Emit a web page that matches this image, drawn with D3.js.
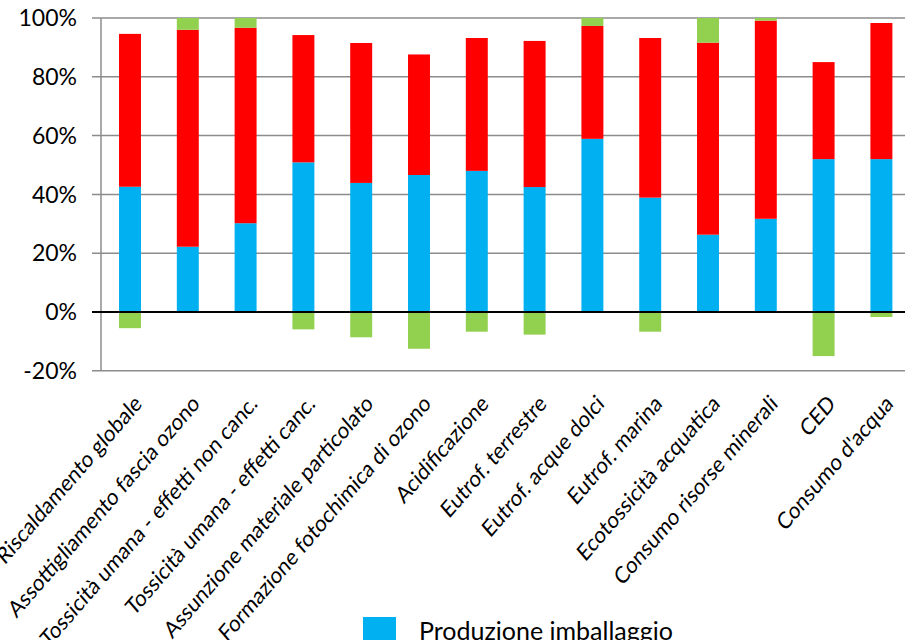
<!DOCTYPE html>
<html>
<head>
<meta charset="utf-8">
<script src="https://cdn.jsdelivr.net/npm/d3@7"></script>
<style>
  html, body { margin: 0; padding: 0; background: #fff; }
  svg { display: block; }
  text { font-family: Lato, "Open Sans", sans-serif; fill: #000; }
</style>
</head>
<body>
<svg id="chart" width="905" height="640"></svg>
<script>
const categories = [
  "Riscaldamento globale",
  "Assottigliamento fascia ozono",
  "Tossicità umana - effetti non canc.",
  "Tossicità umana - effetti canc.",
  "Assunzione materiale particolato",
  "Formazione fotochimica di ozono",
  "Acidificazione",
  "Eutrof. terrestre",
  "Eutrof. acque dolci",
  "Eutrof. marina",
  "Ecotossicità acquatica",
  "Consumo risorse minerali",
  "CED",
  "Consumo d'acqua"
];
// Blue series: Produzione imballaggio
const produzione = [42.6, 22.2, 30.2, 50.9, 43.9, 46.6, 48.0, 42.5, 58.9, 38.9, 26.3, 31.7, 52.0, 52.0];
// Red series
const seriesRed = [52.0, 73.8, 66.5, 43.3, 47.6, 41.0, 45.2, 49.7, 38.4, 54.3, 65.3, 67.4, 33.0, 46.3];
// Green series (may be positive or negative)
const seriesGreen = [-5.5, 4.0, 3.3, -5.9, -8.6, -12.5, -6.7, -7.7, 2.7, -6.7, 8.4, 0.9, -15.0, -1.7];
const yTicks = [-20, 0, 20, 40, 60, 80, 100];
const legendLabels = ["Produzione imballaggio"];

const colors = { blue: "#00B0F0", red: "#FF0000", green: "#92D050" };

const svg = d3.select("#chart");

const x = d3.scaleBand()
  .domain(categories)
  .range([101.1, 910.3])
  .paddingInner(0.62)
  .paddingOuter(0.31);

const y = d3.scaleLinear().domain([-20, 100]).range([370.8, 18]);

// gridlines
svg.append("g").selectAll("line")
  .data(yTicks.filter(d => d !== 0))
  .join("line")
  .attr("x1", 92).attr("x2", 905)
  .attr("y1", d => y(d)).attr("y2", d => y(d))
  .attr("stroke", "#8c8c8c").attr("stroke-width", 1.5);

// left axis line
svg.append("line")
  .attr("x1", 101).attr("x2", 101)
  .attr("y1", y(100)).attr("y2", y(-20))
  .attr("stroke", "#8c8c8c").attr("stroke-width", 1.5);

// build stacked data
const rows = categories.map((c, i) => {
  const segs = [];
  const b = produzione[i], r = seriesRed[i], g = seriesGreen[i];
  segs.push({ c, y0: 0, y1: b, color: colors.blue });
  segs.push({ c, y0: b, y1: b + r, color: colors.red });
  if (g >= 0) segs.push({ c, y0: b + r, y1: b + r + g, color: colors.green });
  else segs.push({ c, y0: g, y1: 0, color: colors.green });
  return segs;
}).flat();

svg.append("g").selectAll("rect")
  .data(rows)
  .join("rect")
  .attr("x", d => x(d.c))
  .attr("width", x.bandwidth())
  .attr("y", d => y(Math.max(d.y0, d.y1)))
  .attr("height", d => Math.abs(y(d.y0) - y(d.y1)))
  .attr("fill", d => d.color);

// zero line
svg.append("line")
  .attr("x1", 92).attr("x2", 905)
  .attr("y1", y(0)).attr("y2", y(0))
  .attr("stroke", "#000").attr("stroke-width", 2);

// y tick labels
svg.append("g").selectAll("text")
  .data(yTicks)
  .join("text")
  .attr("x", 77)
  .attr("y", d => y(d))
  .attr("dy", "0.36em")
  .attr("text-anchor", "end")
  .attr("font-size", 23)
  .text(d => d + "%");

// category labels (slightly stretched vertically like the reference)
svg.append("g").selectAll("text")
  .data(categories)
  .join("text")
  .attr("text-anchor", "end")
  .attr("font-size", 20)
  .attr("transform", d => `translate(${x(d) + x.bandwidth() / 2 + 13},${405}) scale(1,1.16) rotate(-45)`)
  .text(d => d);

// legend
const lg = svg.append("g");
lg.selectAll("rect")
  .data(legendLabels)
  .join("rect")
  .attr("x", 363).attr("y", (d, i) => 617 + i * 40)
  .attr("width", 33).attr("height", 33)
  .attr("fill", colors.blue);
lg.selectAll("text")
  .data(legendLabels)
  .join("text")
  .attr("x", 419).attr("y", (d, i) => 640 + i * 40)
  .attr("font-size", 25)
  .text(d => d);
</script>
</body>
</html>
